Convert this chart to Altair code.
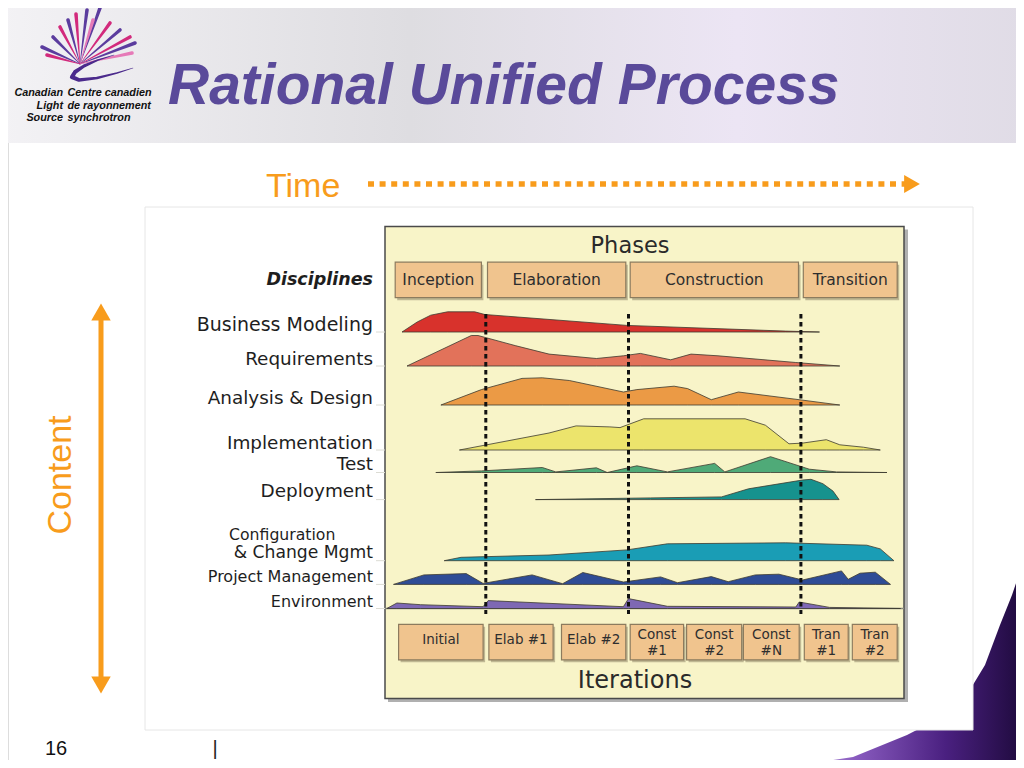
import altair as alt
import pandas as pd

# ---------------- values ----------------
phase_names = ["Inception", "Elaboration", "Construction", "Transition"]
phase_x0 = [395.2, 487.5, 630.2, 803.3]
phase_x1 = [481.4, 625.8, 798.5, 897.2]

iter_names = ["Initial", "Elab #1", "Elab #2", "Const\n#1", "Const\n#2",
              "Const\n#N", "Tran\n#1", "Tran\n#2"]
iter_x0 = [398.6, 488.9, 561.5, 630.2, 686.6, 743.4, 804.3, 852.3]
iter_x1 = [483.1, 553.1, 625.8, 683.6, 741.7, 799.2, 848.2, 897.2]

milestones = [485.8, 628.5, 800.9]

disciplines = ["Business Modeling", "Requirements", "Analysis & Design",
               "Implementation", "Test", "Deployment",
               "Configuration & Change Mgmt", "Project Management", "Environment"]
hump_colors = ["#d8322c", "#e2725a", "#eb9a45", "#ece46c", "#4faa78",
               "#16928e", "#1a9db5", "#2f4c96", "#7e68b4"]
baselines = [332, 366, 405, 450, 472.5, 499.6, 560.7, 584.4, 608.5]

hump_x = [
    [402, 417.2, 430.7, 447.6, 474.7, 484.8, 626.8, 785.7, 819.5],
    [407, 471.3, 478, 515.2, 549, 596.4, 623.4, 640.3, 670.7, 691, 718, 795.8, 839.8],
    [440.9, 481.4, 522, 542.3, 569.3, 623.4, 636.9, 674.1, 687.6, 711.3, 738.4, 799.2, 839.8],
    [459.4, 549, 576.1, 609.9, 620, 643.7, 745.1, 765.4, 789, 802.6, 826.3, 839.8, 863.4, 880.3],
    [435.8, 481.4, 542.3, 555.8, 596.4, 607.2, 636.9, 667.4, 714.7, 724.8, 770.5, 809.3, 836.4, 887],
    [535.5, 650.5, 721.5, 748.5, 802.6, 811, 822.9, 833, 839.1],
    [444.2, 461.1, 549, 626.8, 667.4, 785.7, 866.8, 880.3, 893.9],
    [393.5, 423.9, 466.2, 483.1, 532.1, 562.6, 582.8, 623.4, 660.6, 677.5, 711.3,
     728.2, 755.3, 778.9, 802.6, 841.5, 848.2, 860, 875.3, 890.5],
    [386.8, 396.9, 420.6, 483.1, 488.2, 623.4, 628.5, 667.4, 795.8, 799.2, 829.6, 900.6],
]
hump_top = [
    [332, 322, 315.2, 311.8, 311.8, 314.5, 325.4, 331.1, 332],
    [366, 335.5, 335.5, 345.6, 354.1, 358.5, 355.8, 353.4, 359.8, 354.1, 355.8, 362.5, 366],
    [405, 389.6, 378.4, 377.8, 380.5, 392, 389.6, 386.2, 388.6, 399.7, 392, 399.7, 405],
    [450, 433, 425.9, 426.9, 427.6, 418.8, 418.8, 425.2, 443.8, 443.1, 439.7, 444.8, 447.2, 450],
    [472.5, 470.9, 467.5, 471.9, 467.8, 472.5, 465.8, 471.9, 463.4, 471.9, 456.7, 469.2, 471.9, 472.5],
    [499.6, 497.9, 496.9, 488.8, 480, 479.3, 483.7, 491.1, 499.6],
    [560.7, 557.3, 555, 549.9, 543.8, 542.8, 545.2, 548.9, 560.7],
    [584.4, 574.9, 573.6, 583.4, 574.9, 583.7, 572.5, 582, 576.9, 582.7, 576.6,
     581.7, 574.9, 574.2, 580, 570.9, 579.3, 573.2, 572.2, 584.4],
    [608.5, 603, 604.7, 606.7, 600.6, 606.7, 598.6, 606.3, 607, 602, 607.4, 608.5],
]

bm_label, bm_label_y = ["Business Modeling"], [324.5]
big_labels = ["Requirements", "Analysis & Design", "Implementation", "Test", "Deployment"]
big_label_y = [358.5, 398, 442.5, 463.5, 490.5]
small_labels = ["Project Management", "Environment"]
small_label_y = [577, 601.5]

# logo rays (tips) and swoosh
ray_tip_x = [42, 47, 53, 60, 68, 76, 87, 93, 100, 110, 120, 130, 135, 132]
ray_tip_y = [47, 55, 37, 27, 20, 14, 10, 20, 8, 23, 30, 37, 43, 53]
ray_group = ["p", "m", "p", "m", "p", "m", "p", "k", "p", "m", "p", "m", "p", "k"]
swoosh_x = [114, 98, 84, 75, 72, 79, 97, 117, 133]
swoosh_y = [55, 60, 66, 72, 77, 80, 78, 73, 68]
swoosh_w = [0.6, 1.5, 3, 4, 4.2, 3.6, 2.6, 1.5, 0.5]

corner_x = [762, 800, 853, 907, 940, 965, 985, 1000, 1012, 1024]
corner_y = [768, 765, 757, 735, 718, 698, 665, 625, 595, 560]

# ---------------- helpers ----------------
xs = alt.Scale(domain=[8, 1016], nice=False, zero=False)
ys = alt.Scale(domain=[8, 760], nice=False, zero=False, reverse=True)


def X(f):
    return alt.X(f, type="quantitative", scale=xs, axis=None)


def Y(f):
    return alt.Y(f, type="quantitative", scale=ys, axis=None)


def rects(df, **mk):
    return alt.Chart(df).mark_rect(**mk).encode(x=X("x0"), x2="x1", y=Y("y0"), y2="y1")


def texts(df, **mk):
    return alt.Chart(df).mark_text(**mk).encode(x=X("x"), y=Y("y"), text="t:N")


ORANGE = "#f89c1c"
TAN = "#f0c48e"
CREAM = "#f8f4c8"
VFONT = "DejaVu Sans"
AFONT = "Liberation Sans"
LABEL = "#1e1e1e"

layers = []

# header band
layers.append(rects(pd.DataFrame({"x0": [0], "x1": [1024], "y0": [0], "y1": [143]}),
                    fill=alt.LinearGradient(gradient="linear", x1=0, x2=1, y1=0, y2=0, stops=[
                        alt.GradientStop(color="#f3f2f5", offset=0),
                        alt.GradientStop(color="#dedde1", offset=0.4),
                        alt.GradientStop(color="#ece5f4", offset=0.72),
                        alt.GradientStop(color="#e0dce6", offset=1)])))

# bottom-right swoosh
corner = pd.DataFrame({"x": corner_x, "y": corner_y, "b": [768] * len(corner_x)})
layers.append(alt.Chart(corner).mark_area(
    fill=alt.LinearGradient(gradient="linear", x1=0, x2=1, y1=0, y2=0, stops=[
        alt.GradientStop(color="#ddd0ee", offset=0),
        alt.GradientStop(color="#8a5cc0", offset=0.35),
        alt.GradientStop(color="#4a2080", offset=0.7),
        alt.GradientStop(color="#1e0a3c", offset=1)]), opacity=1
).encode(x=X("x"), y=Y("y"), y2="b"))

# white content panel
layers.append(rects(pd.DataFrame({"x0": [145], "x1": [973], "y0": [207], "y1": [730]}),
                    fill="white", stroke="#e6e6e6", strokeWidth=1))

# logo rays
rays = []
for i, (tx, ty, g) in enumerate(zip(ray_tip_x, ray_tip_y, ray_group)):
    rays.append({"id": i, "x": 80, "y": 64, "w": 0.4, "g": g})
    rays.append({"id": i, "x": tx, "y": ty, "w": 3.6, "g": g})
rays = pd.DataFrame(rays)
for g, col in [("p", "#5b3c9e"), ("m", "#d22a7c"), ("k", "#e67ab8")]:
    layers.append(alt.Chart(rays[rays.g == g]).mark_trail(color=col).encode(
        x=X("x"), y=Y("y"), size=alt.Size("w:Q", scale=None, legend=None), detail="id:N"))
sw = pd.DataFrame({"x": swoosh_x, "y": swoosh_y, "w": swoosh_w, "o": list(range(len(swoosh_x)))})
layers.append(alt.Chart(sw).mark_trail(color="#4b2a8c").encode(
    x=X("x"), y=Y("y"), size=alt.Size("w:Q", scale=None, legend=None), order="o:Q"))

logo_font = AFONT
layers.append(texts(pd.DataFrame({"x": [63, 63, 63], "y": [93, 105.5, 118],
                                  "t": ["Canadian", "Light", "Source"]}),
                    align="right", baseline="middle", font=logo_font, fontSize=10.8,
                    fontStyle="italic", fontWeight="bold", color="#111"))
layers.append(texts(pd.DataFrame({"x": [67.5, 67.5, 67.5], "y": [93, 105.5, 118],
                                  "t": ["Centre canadien", "de rayonnement", "synchrotron"]}),
                    align="left", baseline="middle", font=logo_font, fontSize=10.8,
                    fontStyle="italic", fontWeight="bold", color="#111"))

# title
layers.append(texts(pd.DataFrame({"x": [168], "y": [104], "t": ["Rational Unified Process"]}),
                    align="left", baseline="alphabetic", font=AFONT, fontSize=57,
                    fontStyle="italic", fontWeight="bold", color="#5a4a9a"))

# time arrow
layers.append(texts(pd.DataFrame({"x": [266], "y": [197], "t": ["Time"]}),
                    align="left", baseline="alphabetic", font=AFONT, fontSize=34, color=ORANGE))
layers.append(alt.Chart(pd.DataFrame({"x0": [368], "x1": [905], "y": [184]})).mark_rule(
    color=ORANGE, strokeWidth=5.5, strokeDash=[6, 5.6]).encode(x=X("x0"), x2="x1", y=Y("y")))
layers.append(alt.Chart(pd.DataFrame({"x": [912], "y": [184]})).mark_point(
    shape="triangle-right", filled=True, size=330, color=ORANGE, opacity=1).encode(x=X("x"), y=Y("y")))

# content arrow
layers.append(alt.Chart(pd.DataFrame({"x": [101], "y0": [318], "y1": [682]})).mark_rule(
    color=ORANGE, strokeWidth=5).encode(x=X("x"), y=Y("y0"), y2="y1"))
layers.append(alt.Chart(pd.DataFrame({"x": [101], "y": [312]})).mark_point(
    shape="triangle-up", filled=True, size=380, color=ORANGE, opacity=1).encode(x=X("x"), y=Y("y")))
layers.append(alt.Chart(pd.DataFrame({"x": [101], "y": [685]})).mark_point(
    shape="triangle-down", filled=True, size=380, color=ORANGE, opacity=1).encode(x=X("x"), y=Y("y")))
layers.append(texts(pd.DataFrame({"x": [61], "y": [475], "t": ["Content"]}),
                    align="center", baseline="middle", angle=270, font=AFONT, fontSize=34,
                    color=ORANGE))

# yellow panel
layers.append(rects(pd.DataFrame({"x0": [388], "x1": [908], "y0": [229.5], "y1": [702]}),
                    fill="#6f6f6f", opacity=0.55))
layers.append(rects(pd.DataFrame({"x0": [385], "x1": [904], "y0": [226.5], "y1": [698.5]}),
                    fill=CREAM, stroke="#4a4a4a", strokeWidth=1.5))
layers.append(alt.Chart(pd.DataFrame({"x0": [385], "x1": [904], "y": [608.5]})).mark_rule(
    color="#8a8a80", strokeWidth=1.5).encode(x=X("x0"), x2="x1", y=Y("y")))

# phases
layers.append(texts(pd.DataFrame({"x": [630], "y": [246], "t": ["Phases"]}),
                    align="center", baseline="middle", font=VFONT, fontSize=22.5, color="#2a2a2a"))
ph = pd.DataFrame({"x0": phase_x0, "x1": phase_x1, "y0": [262.2] * 4, "y1": [297.7] * 4})
phs = ph.assign(x0=ph.x0 + 2, x1=ph.x1 + 2, y0=ph.y0 + 2.5, y1=ph.y1 + 2.5)
layers.append(rects(phs, fill="#9a9070", opacity=0.6))
layers.append(rects(ph, fill=TAN, stroke="#8c7b5e", strokeWidth=1.2))
layers.append(texts(pd.DataFrame({"x": [(a + b) / 2 for a, b in zip(phase_x0, phase_x1)],
                                  "y": [279.5] * 4, "t": phase_names}),
                    align="center", baseline="middle", font=VFONT, fontSize=15.5, color="#2e2e2e"))

# discipline labels
layers.append(texts(pd.DataFrame({"x": [373], "y": [279.5], "t": ["Disciplines"]}),
                    align="right", baseline="middle", font=VFONT, fontSize=17.5,
                    fontStyle="italic", fontWeight="bold", color=LABEL))
layers.append(texts(pd.DataFrame({"x": [373], "y": bm_label_y, "t": bm_label}),
                    align="right", baseline="middle", font=VFONT, fontSize=19, color=LABEL))
layers.append(texts(pd.DataFrame({"x": [373] * len(big_labels), "y": big_label_y, "t": big_labels}),
                    align="right", baseline="middle", font=VFONT, fontSize=18.4, color=LABEL))
layers.append(texts(pd.DataFrame({"x": [373] * len(small_labels), "y": small_label_y, "t": small_labels}),
                    align="right", baseline="middle", font=VFONT, fontSize=16, color=LABEL))
layers.append(texts(pd.DataFrame({"x": [373], "y": [553], "t": ["& Change Mgmt"]}),
                    align="right", baseline="middle", font=VFONT, fontSize=17.2, color=LABEL))
layers.append(texts(pd.DataFrame({"x": [229], "y": [535], "t": ["Configuration"]}),
                    align="left", baseline="middle", font=VFONT, fontSize=15.7, color=LABEL))
guides = pd.DataFrame({"x0": [376] * len(baselines), "x1": [385] * len(baselines), "y": baselines})
layers.append(alt.Chart(guides).mark_rule(color="#dcdcd4", strokeWidth=1).encode(
    x=X("x0"), x2="x1", y=Y("y")))

# humps
rows = []
for d, b, hx, ht in zip(disciplines, baselines, hump_x, hump_top):
    for x, t in zip(hx, ht):
        rows.append({"d": d, "x": x, "top": t, "base": b})
humps = pd.DataFrame(rows)
layers.append(alt.Chart(humps).mark_area(
    stroke="#3c3a30", strokeWidth=0.8, strokeJoin="round", opacity=1).encode(
    x=X("x"), y=alt.Y("top:Q", scale=ys, axis=None, stack=None), y2="base",
    color=alt.Color("d:N", scale=alt.Scale(domain=disciplines, range=hump_colors), legend=None)))

# milestone dashes
layers.append(alt.Chart(pd.DataFrame({"x": milestones, "y0": [314] * 3, "y1": [614] * 3})).mark_rule(
    color="#111", strokeWidth=3, strokeDash=[4.5, 3.5]).encode(x=X("x"), y=Y("y0"), y2="y1"))

# iterations
it = pd.DataFrame({"x0": iter_x0, "x1": iter_x1, "y0": [624.3] * 8, "y1": [659.8] * 8})
its = it.assign(x0=it.x0 + 2, x1=it.x1 + 2, y0=it.y0 + 2.5, y1=it.y1 + 2.5)
layers.append(rects(its, fill="#9a9070", opacity=0.6))
layers.append(rects(it, fill=TAN, stroke="#8c7b5e", strokeWidth=1.2))
layers.append(texts(pd.DataFrame({"x": [(a + b) / 2 for a, b in zip(iter_x0, iter_x1)],
                                  "y": [640] * 3 + [635] * 5, "t": iter_names}),
                    align="center", baseline="middle", font=VFONT, fontSize=13.5,
                    lineBreak="\n", lineHeight=16, color="#2e2e2e"))
layers.append(texts(pd.DataFrame({"x": [635], "y": [681], "t": ["Iterations"]}),
                    align="center", baseline="middle", font=VFONT, fontSize=24, color="#2a2a2a"))

# footer
layers.append(texts(pd.DataFrame({"x": [45], "y": [755], "t": ["16"]}),
                    align="left", baseline="alphabetic", font=AFONT, fontSize=20, color="#111"))
layers.append(texts(pd.DataFrame({"x": [215], "y": [755], "t": ["|"]}),
                    align="center", baseline="alphabetic", font=AFONT, fontSize=20, color="#222"))

chart = alt.layer(*layers).properties(
    width=1008, height=752, padding=0, autosize=alt.AutoSizeParams(type="none")
).configure_view(stroke=None).configure(background="white")

chart.save("out.html", embed_options={"renderer": "svg", "actions": False})
